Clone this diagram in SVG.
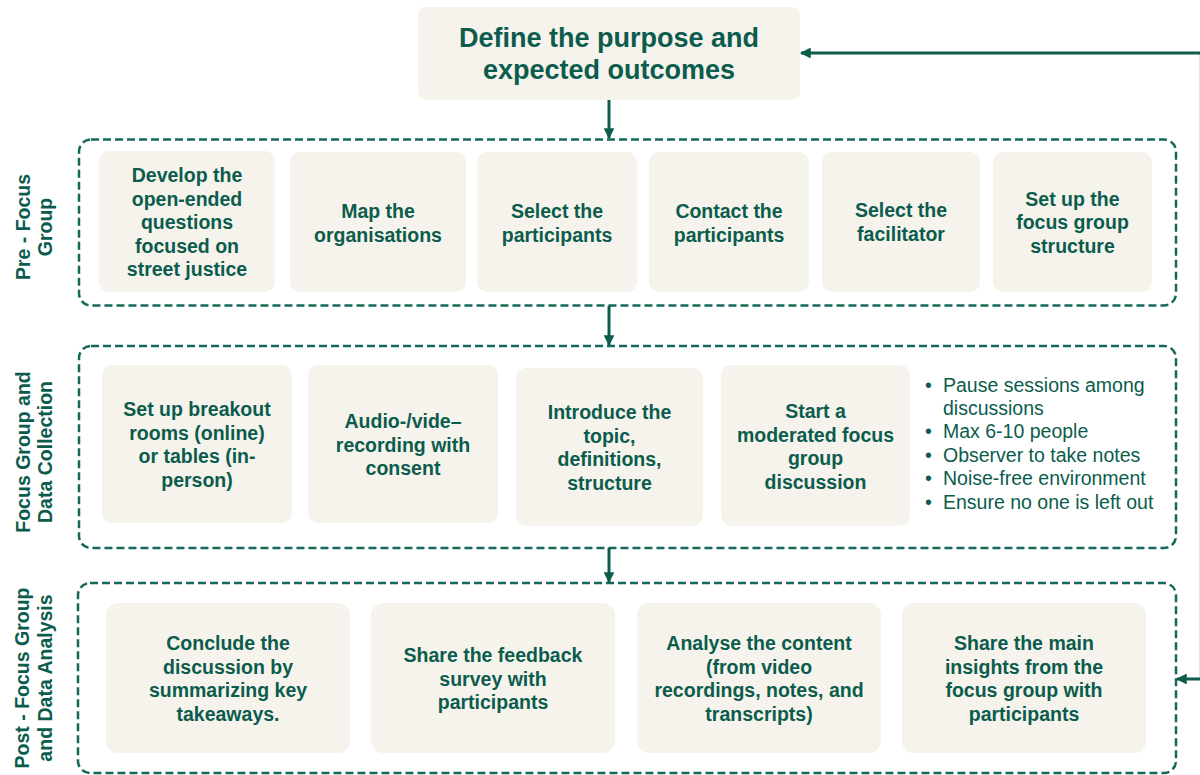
<svg xmlns="http://www.w3.org/2000/svg" width="1200" height="775" viewBox="0 0 1200 775">
<style>
.node{fill:#f6f3ec}
.phase{fill:none;stroke:#15685a;stroke-width:2.5;stroke-dasharray:8 4}
.t{font-family:"Liberation Sans",Arial,sans-serif;font-weight:bold;font-size:19.5px;fill:#0b5c4d;text-anchor:middle}
.h{font-family:"Liberation Sans",Arial,sans-serif;font-weight:bold;font-size:27px;fill:#0b5c4d;text-anchor:middle}
.b{font-family:"Liberation Sans",Arial,sans-serif;font-size:19.5px;fill:#0b5c4d}
.lab{font-family:"Liberation Sans",Arial,sans-serif;font-weight:bold;font-size:19.5px;fill:#0b5c4d;text-anchor:middle}
.c{fill:none;stroke:#0b5c4d;stroke-width:3}
</style>
<defs>
<marker id="ah" viewBox="0 0 10 10" refX="9" refY="5" markerWidth="3.6" markerHeight="3.6" orient="auto" markerUnits="strokeWidth">
<path d="M0,0 L10,5 L0,10 z" fill="#0b5c4d"/>
</marker>
</defs>
<rect width="1200" height="775" fill="#ffffff"/>

<g id="phases">
<rect id="phase-pre" class="phase" x="79" y="139.5" width="1097" height="166" rx="12"/>
<rect id="phase-focus" class="phase" x="79" y="346" width="1097" height="202" rx="12"/>
<rect id="phase-post" class="phase" x="78" y="583" width="1098" height="190" rx="12"/>
</g>

<g id="phase-labels">
<g id="label-pre" transform="translate(0,227) rotate(-90)">
<text class="lab" x="0" y="30">Pre - Focus</text>
<text class="lab" x="0" y="52">Group</text>
</g>
<g id="label-focus" transform="translate(0,452) rotate(-90)">
<text class="lab" x="0" y="30">Focus Group and</text>
<text class="lab" x="0" y="52">Data Collection</text>
</g>
<g id="label-post" transform="translate(0,678) rotate(-90)">
<text class="lab" x="0" y="29">Post - Focus Group</text>
<text class="lab" x="0" y="52">and Data Analysis</text>
</g>
</g>

<g id="connectors">
<line x1="1199.5" y1="53" x2="1199.5" y2="679" stroke="#e3e6e4" stroke-width="1"/>
<line class="c" x1="609" y1="100" x2="609" y2="138" marker-end="url(#ah)"/>
<line class="c" x1="609" y1="306" x2="609" y2="345" marker-end="url(#ah)"/>
<line class="c" x1="609" y1="548" x2="609" y2="582" marker-end="url(#ah)"/>
<line class="c" x1="1203" y1="53" x2="801" y2="53" marker-end="url(#ah)"/>
<line class="c" x1="1203" y1="679" x2="1177" y2="679" marker-end="url(#ah)"/>
</g>

<g id="n-define">
<rect class="node" x="418" y="7" width="382" height="93" rx="8"/>
<text class="h" x="609" y="47">Define the purpose and</text>
<text class="h" x="609" y="79">expected outcomes</text>
</g>

<g id="n-develop">
<rect class="node" x="99" y="151" width="176" height="141" rx="10"/>
<text class="t" x="187" y="182">Develop the</text>
<text class="t" x="187" y="205.5">open-ended</text>
<text class="t" x="187" y="229">questions</text>
<text class="t" x="187" y="252.5">focused on</text>
<text class="t" x="187" y="276">street justice</text>
</g>
<g id="n-map">
<rect class="node" x="290" y="152" width="176" height="140" rx="10"/>
<text class="t" x="378" y="218">Map the</text>
<text class="t" x="378" y="241.5">organisations</text>
</g>
<g id="n-select-participants">
<rect class="node" x="477" y="152" width="160" height="140" rx="10"/>
<text class="t" x="557" y="218">Select the</text>
<text class="t" x="557" y="241.5">participants</text>
</g>
<g id="n-contact">
<rect class="node" x="649" y="152" width="160" height="140" rx="10"/>
<text class="t" x="729" y="218">Contact the</text>
<text class="t" x="729" y="241.5">participants</text>
</g>
<g id="n-facilitator">
<rect class="node" x="822" y="152" width="158" height="140" rx="10"/>
<text class="t" x="901" y="217">Select the</text>
<text class="t" x="901" y="240.5">facilitator</text>
</g>
<g id="n-structure">
<rect class="node" x="993" y="152" width="159" height="140" rx="10"/>
<text class="t" x="1072.5" y="205.5">Set up the</text>
<text class="t" x="1072.5" y="229">focus group</text>
<text class="t" x="1072.5" y="252.5">structure</text>
</g>

<g id="n-breakout">
<rect class="node" x="102" y="365" width="190" height="158" rx="10"/>
<text class="t" x="197" y="416">Set up breakout</text>
<text class="t" x="197" y="439.5">rooms (online)</text>
<text class="t" x="197" y="463">or tables (in-</text>
<text class="t" x="197" y="486.5">person)</text>
</g>
<g id="n-recording">
<rect class="node" x="308" y="365" width="190" height="158" rx="10"/>
<text class="t" x="403" y="428">Audio-/vide–</text>
<text class="t" x="403" y="451.5">recording with</text>
<text class="t" x="403" y="475">consent</text>
</g>
<g id="n-introduce">
<rect class="node" x="516" y="368" width="187" height="158" rx="10"/>
<text class="t" x="609.5" y="419">Introduce the</text>
<text class="t" x="609.5" y="442.5">topic,</text>
<text class="t" x="609.5" y="466">definitions,</text>
<text class="t" x="609.5" y="489.5">structure</text>
</g>
<g id="n-moderated">
<rect class="node" x="721" y="365" width="189" height="161" rx="10"/>
<text class="t" x="815.5" y="418">Start a</text>
<text class="t" x="815.5" y="441.5">moderated focus</text>
<text class="t" x="815.5" y="465">group</text>
<text class="t" x="815.5" y="488.5">discussion</text>
</g>
<g id="n-notes">
<text class="b" x="925" y="392">•</text>
<text class="b" x="943" y="392">Pause sessions among</text>
<text class="b" x="943" y="415">discussions</text>
<text class="b" x="925" y="438">•</text>
<text class="b" x="943" y="438">Max 6-10 people</text>
<text class="b" x="925" y="461.5">•</text>
<text class="b" x="943" y="461.5">Observer to take notes</text>
<text class="b" x="925" y="485">•</text>
<text class="b" x="943" y="485">Noise-free environment</text>
<text class="b" x="925" y="508.5">•</text>
<text class="b" x="943" y="508.5">Ensure no one is left out</text>
</g>

<g id="n-conclude">
<rect class="node" x="106" y="603" width="244" height="150" rx="12"/>
<text class="t" x="228" y="650">Conclude the</text>
<text class="t" x="228" y="673.5">discussion by</text>
<text class="t" x="228" y="697">summarizing key</text>
<text class="t" x="228" y="720.5">takeaways.</text>
</g>
<g id="n-feedback">
<rect class="node" x="371" y="603" width="244" height="150" rx="12"/>
<text class="t" x="493" y="662">Share the feedback</text>
<text class="t" x="493" y="685.5">survey with</text>
<text class="t" x="493" y="709">participants</text>
</g>
<g id="n-analyse">
<rect class="node" x="637" y="603" width="244" height="150" rx="12"/>
<text class="t" x="759" y="650">Analyse the content</text>
<text class="t" x="759" y="673.5">(from video</text>
<text class="t" x="759" y="697">recordings, notes, and</text>
<text class="t" x="759" y="720.5">transcripts)</text>
</g>
<g id="n-insights">
<rect class="node" x="902" y="603" width="244" height="150" rx="12"/>
<text class="t" x="1024" y="650">Share the main</text>
<text class="t" x="1024" y="673.5">insights from the</text>
<text class="t" x="1024" y="697">focus group with</text>
<text class="t" x="1024" y="720.5">participants</text>
</g>
</svg>
